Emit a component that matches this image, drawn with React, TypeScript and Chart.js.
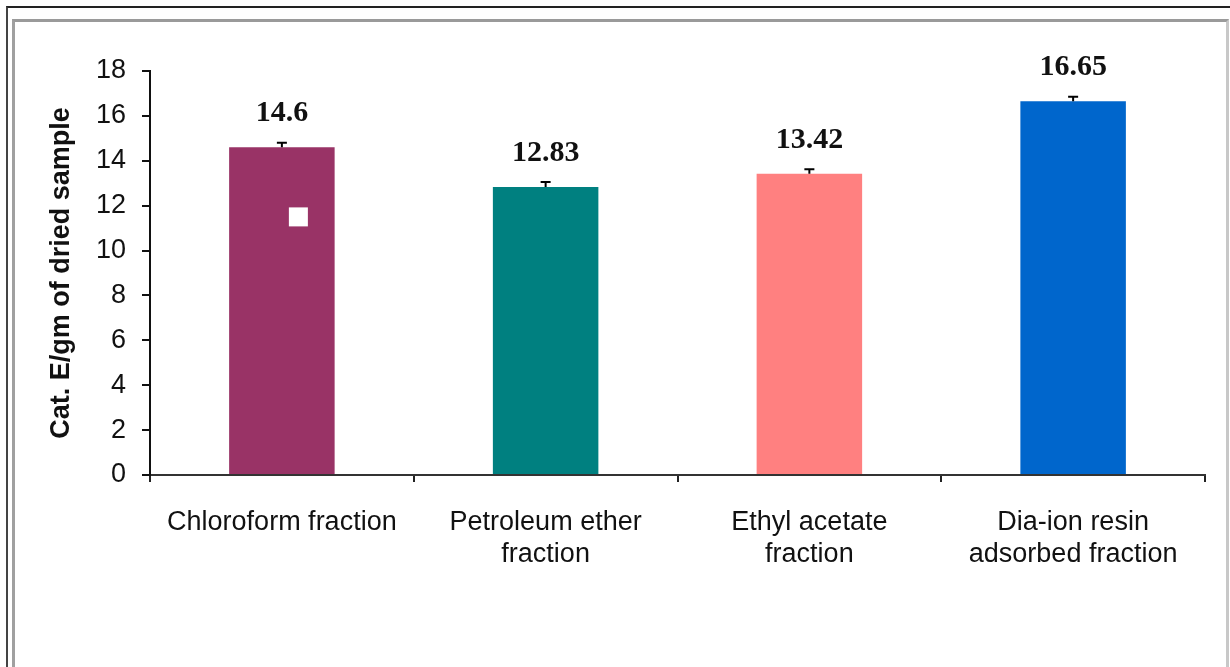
import React, { useEffect, useRef } from "react";
import { Chart, registerables } from "chart.js";

Chart.register(...registerables);

const categories: string[][] = [
  ["Chloroform fraction"],
  ["Petroleum ether", "fraction"],
  ["Ethyl acetate", "fraction"],
  ["Dia-ion resin", "adsorbed fraction"],
];
const values: number[] = [14.6, 12.83, 13.42, 16.65];
const errors: number[] = [0.2, 0.22, 0.2, 0.2];
const valueLabels: string[] = ["14.6", "12.83", "13.42", "16.65"];
const barColors: string[] = ["#993366", "#008080", "#FF8080", "#0066CC"];
const yTicks: number[] = [0, 2, 4, 6, 8, 10, 12, 14, 16, 18];
const yTitle = "Cat. E/gm of dried sample";
// stray white marker inside the first bar (category index, value)
const markerPoint = { index: 0, value: 11.5 };

const overlayPlugin = {
  id: "overlay",
  afterDatasetsDraw(chart: any) {
    const ctx = chart.ctx;
    const y = chart.scales.y;
    const meta = chart.getDatasetMeta(0);
    ctx.save();
    meta.data.forEach((bar: any, i: number) => {
      const top = y.getPixelForValue(values[i] + errors[i]);
      const base = y.getPixelForValue(values[i]);
      ctx.strokeStyle = "#000";
      ctx.lineWidth = 2;
      ctx.beginPath();
      ctx.moveTo(bar.x, base);
      ctx.lineTo(bar.x, top);
      ctx.moveTo(bar.x - 5, top);
      ctx.lineTo(bar.x + 5, top);
      ctx.stroke();
      ctx.fillStyle = "#111";
      ctx.font = "bold 30px 'Liberation Serif', 'Times New Roman', serif";
      ctx.textAlign = "center";
      ctx.textBaseline = "middle";
      ctx.fillText(valueLabels[i], bar.x, base - 34);
    });
    const mb = meta.data[markerPoint.index];
    if (mb) {
      const my = y.getPixelForValue(markerPoint.value);
      ctx.fillStyle = "#ffffff";
      ctx.fillRect(mb.x + 7, my - 9.5, 19, 19);
    }
    ctx.restore();
  },
};

export default function App() {
  const ref = useRef<HTMLCanvasElement | null>(null);
  useEffect(() => {
    if (!ref.current) return;
    const chart = new Chart(ref.current, {
      type: "bar",
      data: {
        labels: categories,
        datasets: [
          {
            data: values,
            backgroundColor: barColors,
            borderWidth: 0,
            categoryPercentage: 0.4,
            barPercentage: 1.0,
          },
        ],
      },
      options: {
        responsive: false,
        animation: false,
        events: [],
        layout: { padding: { top: 71, right: 25, left: 0, bottom: 0 } },
        plugins: {
          legend: { display: false },
          tooltip: { enabled: false },
        },
        scales: {
          x: {
            offset: true,
            grid: {
              offset: true,
              drawOnChartArea: false,
              drawTicks: true,
              tickLength: 7,
              color: "#222",
              lineWidth: 2,
            },
            border: { display: true, color: "#333", width: 2 },
            ticks: {
              color: "#111",
              font: { family: "'Liberation Sans', Arial, sans-serif", size: 27, lineHeight: 1.19 },
              padding: 24,
              maxRotation: 0,
              autoSkip: false,
            },
            afterFit: (s: any) => {
              s.height = 192;
            },
          },
          y: {
            min: 0,
            max: 18,
            afterBuildTicks: (s: any) => {
              s.ticks = yTicks.map((v) => ({ value: v }));
            },
            grid: {
              drawOnChartArea: false,
              drawTicks: true,
              tickLength: 8,
              color: "#111",
              lineWidth: 2,
            },
            border: { display: true, color: "#111", width: 2 },
            ticks: {
              color: "#111",
              font: { family: "'Liberation Sans', Arial, sans-serif", size: 27 },
              padding: 16,
            },
            title: {
              display: true,
              text: yTitle,
              color: "#111",
              font: { family: "'Liberation Sans', Arial, sans-serif", size: 27, weight: "bold" },
              padding: { top: 45, bottom: 0 },
            },
            afterFit: (s: any) => {
              s.width = 150;
            },
          },
        },
      },
      plugins: [overlayPlugin],
    });
    return () => chart.destroy();
  }, []);

  return (
    <div style={{ position: "fixed", left: 0, top: 0, width: 1230, height: 667, background: "#fff", overflow: "hidden" }}>
      <div
        style={{
          position: "absolute",
          left: 6,
          top: 6,
          width: 1230,
          height: 700,
          borderTop: "2px solid #222",
          borderLeft: "2px solid #444",
        }}
      />
      <div
        style={{
          position: "absolute",
          left: 12,
          top: 19,
          width: 1211,
          height: 700,
          borderTop: "3px solid #9a9a9a",
          borderLeft: "3px solid #a0a0a0",
          borderRight: "3px solid #c8c8c8",
        }}
      />
      <canvas ref={ref} width={1230} height={667} style={{ position: "absolute", left: 0, top: 0 }} />
    </div>
  );
}
